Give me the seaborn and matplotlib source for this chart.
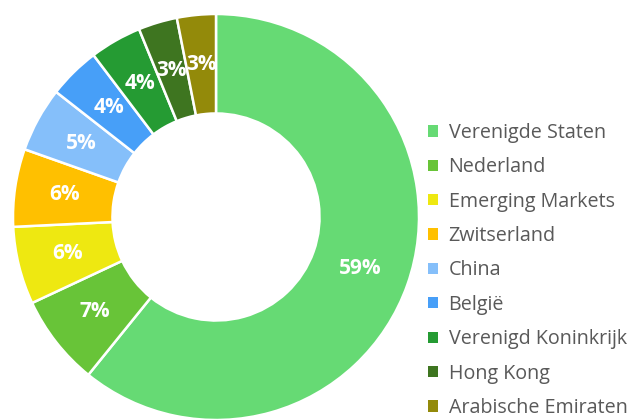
import matplotlib
matplotlib.use("Agg")
import matplotlib.pyplot as plt
from matplotlib.patches import Patch
import seaborn as sns
import numpy as np

countries = ["Verenigde Staten", "Nederland", "Emerging Markets", "Zwitserland",
             "China", "België", "Verenigd Koninkrijk", "Hong Kong", "Arabische Emiraten"]
shares = [59, 7, 6, 6, 5, 4, 4, 3, 3]
colors = ["#66DA74", "#68C438", "#EEE811", "#FFC000", "#85BFFA",
          "#479FF8", "#259B33", "#3E7520", "#938A0A"]

sns.set_theme(style="white")
plt.rcParams["font.family"] = ["Open Sans", "DejaVu Sans"]
palette = sns.color_palette(colors)

fig = plt.figure(figsize=(6.35, 4.19), dpi=100)
ax = fig.add_axes([13 / 635, -1 / 419, 406 / 635, 406 / 419])

wedges, texts = ax.pie(shares, colors=palette, startangle=90, counterclock=False,
                       radius=1.0, wedgeprops=dict(width=0.49, edgecolor="white", linewidth=1.8))

# labels in the middle of the ring
for w, v in zip(wedges, shares):
    ang = np.deg2rad((w.theta1 + w.theta2) / 2)
    r = 0.755
    ax.text(r * np.cos(ang), r * np.sin(ang), f"{v}%", ha="center", va="center",
            color="white", fontsize=15, fontweight="bold")

ax.set_xlim(-1, 1)
ax.set_ylim(-1, 1)
ax.set_aspect("equal")
ax.axis("off")

handles = [Patch(facecolor=c, edgecolor="none") for c in palette]
leg = fig.legend(handles, countries, loc="upper left", bbox_to_anchor=(420 / 635, 1 - 115 / 419),
                 frameon=False, fontsize=14.2, handlelength=0.5, handleheight=0.5,
                 handletextpad=0.55, labelspacing=0.73, borderaxespad=0)
for t in leg.get_texts():
    t.set_color("#595959")

fig.savefig("out.png", dpi=100)
